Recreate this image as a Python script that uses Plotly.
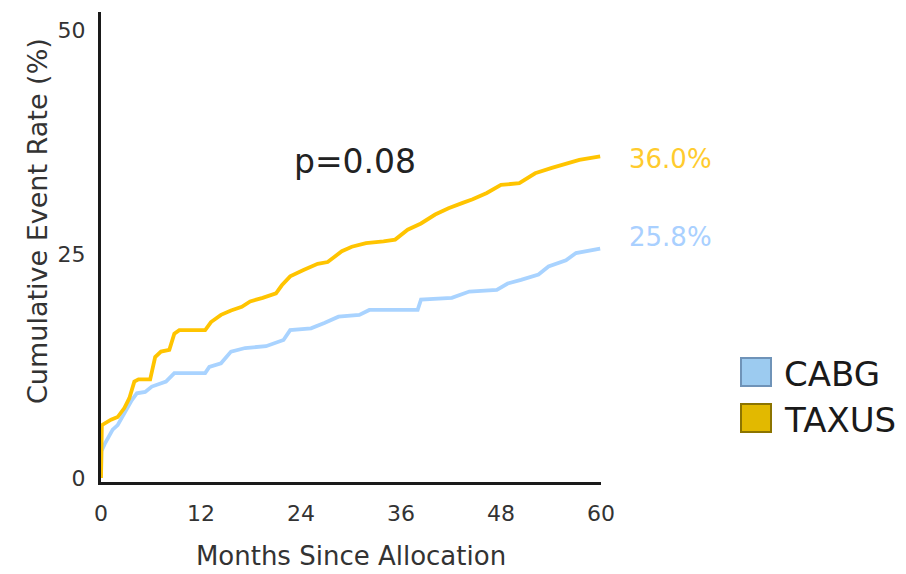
import plotly.graph_objects as go

# ---- data ----
taxus_months = [0, 0.1, 1.2, 2.0, 2.8, 3.4, 4.0, 4.5, 5.9, 6.5, 7.2, 8.2, 8.8, 9.4, 12.5, 13.2,
                14.4, 15.6, 16.9, 17.9, 19.4, 21.0, 21.7, 22.7, 24.3, 26.0, 27.2, 28.9, 30.1,
                31.8, 33.9, 35.3, 36.8, 38.4, 40.1, 41.7, 43.4, 44.6, 46.3, 48.0, 50.2, 52.1,
                54.1, 55.8, 57.4, 59.9]
taxus_rate = [0, 5.9, 6.5, 6.8, 7.8, 8.9, 10.75, 11.0, 11.0, 13.5, 14.1, 14.3, 16.1, 16.5, 16.5,
              17.4, 18.2, 18.7, 19.1, 19.7, 20.1, 20.6, 21.5, 22.5, 23.2, 23.9, 24.1, 25.3, 25.8,
              26.2, 26.4, 26.6, 27.7, 28.4, 29.4, 30.1, 30.7, 31.1, 31.8, 32.7, 32.9, 34.0,
              34.6, 35.1, 35.5, 35.9]

cabg_months = [0, 0.05, 0.5, 1.4, 2.0, 2.8, 3.7, 4.3, 5.3, 6.1, 7.8, 8.8, 12.5, 13.0, 14.4, 15.6,
               17.3, 19.8, 21.9, 22.7, 25.2, 26.8, 28.5, 31.0, 32.2, 38.0, 38.4, 42.1, 44.2,
               47.5, 48.8, 50.4, 52.5, 53.7, 55.8, 57.0, 59.9]
cabg_rate = [0, 3.0, 3.9, 5.4, 5.9, 7.2, 8.7, 9.45, 9.6, 10.2, 10.75, 11.7, 11.7, 12.4, 12.8,
             14.1, 14.5, 14.7, 15.4, 16.5, 16.7, 17.3, 18.0, 18.2, 18.75, 18.75, 19.9, 20.1,
             20.8, 21.0, 21.7, 22.1, 22.7, 23.6, 24.3, 25.1, 25.6]

series_names = ["CABG", "TAXUS"]
end_labels = ["25.8%", "36.0%"]
end_values = [25.8, 36.0]
x_ticks = [0, 12, 24, 36, 48, 60]
y_ticks = [0, 25, 50]
p_text = "p=0.08"

line_colors = ["#A9D3FF", "#FFC400"]
label_colors = ["#A9D0FF", "#FFCB2E"]
swatch_fill = ["#9CCBF0", "#E2B900"]
swatch_edge = ["#6F93B8", "#8C7400"]

FONT = "DejaVu Sans"

fig = go.Figure()
for months, rate, name, col in [(cabg_months, cabg_rate, series_names[0], line_colors[0]),
                                (taxus_months, taxus_rate, series_names[1], line_colors[1])]:
    fig.add_trace(go.Scatter(x=months, y=rate, mode="lines", name=name,
                             line=dict(color=col, width=3.8, shape="linear"),
                             showlegend=False))

# end labels next to the curve ends
yshifts = [10, -4]
for i in range(2):
    fig.add_annotation(x=60, y=end_values[i], xref="x", yref="y", text=end_labels[i],
                       showarrow=False, xanchor="left", yanchor="middle", xshift=26,
                       yshift=yshifts[i],
                       font=dict(family=FONT, size=26, color=label_colors[i]))

# p-value
fig.add_annotation(x=30.5, y=35.3, xref="x", yref="y", text=p_text, showarrow=False,
                   xanchor="center", yanchor="middle",
                   font=dict(family=FONT, size=33, color="#222222"))

# manual legend (paper coordinates)
L, W = 101, 500
T, H = 12, 470
def px(xp):
    return (xp - L) / W
def py(yp):
    return (T + H - yp) / H

rows = [372, 418]
for i, name in enumerate(series_names):
    yc = rows[i]
    fig.add_shape(type="rect", xref="paper", yref="paper",
                  x0=px(741), x1=px(771), y0=py(yc + 14), y1=py(yc - 14),
                  fillcolor=swatch_fill[i], line=dict(color=swatch_edge[i], width=2))
    fig.add_annotation(x=px(782), y=py(yc + 2), xref="paper", yref="paper", text=name,
                       showarrow=False, xanchor="left", yanchor="middle",
                       font=dict(family=FONT, size=34, color="#1a1a1a"))

# y-axis title as rotated annotation
fig.add_annotation(x=px(37), y=py(221), xref="paper", yref="paper",
                   text="Cumulative Event Rate (%)", textangle=-90, showarrow=False,
                   xanchor="center", yanchor="middle",
                   font=dict(family=FONT, size=27, color="#333333"))

fig.update_layout(
    width=906, height=574,
    margin=dict(l=L, r=906 - L - W, t=T, b=574 - T - H),
    paper_bgcolor="white", plot_bgcolor="white",
    showlegend=False,
    font=dict(family=FONT, color="#333333"),
    xaxis=dict(range=[0, 60], tickvals=x_ticks, ticktext=[str(v) for v in x_ticks],
               showgrid=False, zeroline=False, showline=True, linecolor="#1a1a1a",
               linewidth=3, ticks="", ticklabelstandoff=10, automargin=False,
               tickfont=dict(family=FONT, size=22, color="#333333"),
               title=dict(text="Months Since Allocation", standoff=22,
                          font=dict(family=FONT, size=26, color="#333333"))),
    yaxis=dict(range=[-0.45, 52.0], tickvals=y_ticks, ticktext=[str(v) for v in y_ticks],
               showgrid=False, zeroline=False, showline=True, linecolor="#1a1a1a",
               linewidth=3, ticks="", ticklabelstandoff=8, automargin=False,
               tickfont=dict(family=FONT, size=22, color="#333333")),
)

fig.write_html("out.html", config={"displayModeBar": False},
               post_script="document.body.style.margin='0';document.body.style.overflow='hidden';")
